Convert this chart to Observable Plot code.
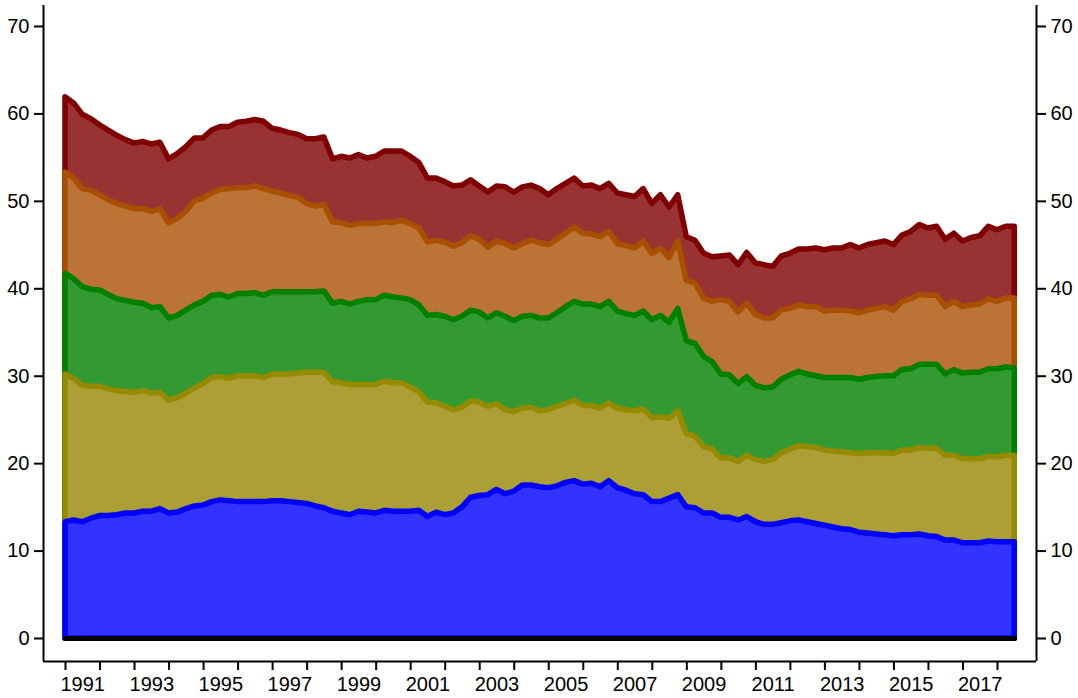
<!DOCTYPE html>
<html>
<head>
<meta charset="utf-8">
<script src="https://cdn.jsdelivr.net/npm/d3@7"></script>
<script src="https://cdn.jsdelivr.net/npm/@observablehq/plot@0.6"></script>
<style>
  html, body { margin: 0; padding: 0; background: #fff; }
  #chart svg { display: block; }
</style>
</head>
<body>
<div id="chart"></div>
<script>
// Quarterly observations, 1991Q1 .. 2018Q3 (111 quarters)
const startYear = 1991;

// Stacked levels (cumulative top of each band)
const levelRed = [61.9,61.2,59.9,59.4,58.7,58.1,57.5,57.0,56.6,56.8,56.5,56.7,54.8,55.4,56.2,57.2,57.2,58.1,58.5,58.5,
  59.0,59.1,59.3,59.1,58.3,58.1,57.8,57.6,57.1,57.1,57.3,54.8,55.1,54.9,55.3,54.9,55.1,55.7,55.7,55.7,
  55.1,54.4,52.6,52.6,52.2,51.7,51.8,52.4,51.7,51.0,51.7,51.6,51.0,51.6,51.8,51.4,50.7,51.4,52.0,52.6,
  51.7,51.8,51.4,52.0,50.9,50.7,50.5,51.4,49.7,50.7,49.3,50.7,45.9,45.5,44.0,43.6,43.7,43.8,42.7,44.1,
  42.9,42.7,42.5,43.7,44.0,44.5,44.5,44.6,44.4,44.6,44.6,45.0,44.6,45.0,45.2,45.4,45.0,46.1,46.5,47.3,
  46.9,47.1,45.6,46.3,45.4,45.8,46.0,47.1,46.7,47.1,47.1];
const levelOrange = [53.3,52.6,51.4,51.2,50.7,50.1,49.7,49.4,49.1,49.1,48.8,49.1,47.5,48.0,48.8,50.0,50.3,50.9,51.3,51.4,
  51.5,51.5,51.7,51.4,51.1,50.9,50.6,50.4,49.7,49.4,49.6,47.6,47.5,47.2,47.4,47.4,47.4,47.6,47.5,47.8,
  47.4,46.9,45.3,45.5,45.3,44.8,45.2,46.0,45.6,44.7,45.4,45.1,44.6,45.1,45.5,45.2,45.0,45.6,46.3,47.0,
  46.3,46.2,45.9,46.5,45.1,44.9,44.6,45.4,44.0,44.6,43.5,45.4,40.9,40.6,38.9,38.5,38.7,38.5,37.3,38.3,
  37.0,36.6,36.6,37.5,37.7,38.1,37.9,37.9,37.4,37.5,37.5,37.4,37.2,37.5,37.7,37.9,37.5,38.5,38.8,39.3,
  39.2,39.2,37.9,38.5,37.9,38.1,38.2,38.8,38.5,38.9,38.9];
const levelGreen = [41.7,41.1,40.2,39.9,39.8,39.3,38.8,38.6,38.4,38.3,37.8,37.9,36.6,36.9,37.5,38.1,38.5,39.2,39.3,39.0,
  39.4,39.4,39.5,39.2,39.6,39.6,39.6,39.6,39.6,39.6,39.7,38.3,38.5,38.2,38.5,38.7,38.7,39.2,39.0,38.9,
  38.7,38.1,36.9,37.0,36.8,36.4,36.8,37.5,37.3,36.6,37.2,36.8,36.3,36.8,36.9,36.6,36.6,37.2,37.9,38.5,
  38.2,38.2,37.9,38.5,37.4,37.1,36.9,37.4,36.4,36.9,36.1,37.7,34.0,33.7,32.2,31.6,30.2,30.1,29.1,29.9,
  28.9,28.6,28.7,29.6,30.1,30.5,30.2,30.0,29.8,29.8,29.8,29.8,29.6,29.8,29.9,30.0,30.0,30.7,30.8,31.3,
  31.3,31.3,30.2,30.7,30.3,30.4,30.4,30.8,30.8,31.0,30.9];
const levelOlive = [30.2,29.7,28.9,28.8,28.8,28.5,28.3,28.2,28.1,28.3,28.0,28.1,27.2,27.5,28.0,28.6,29.1,29.8,29.9,29.7,
  30.0,30.0,30.0,29.8,30.2,30.2,30.2,30.3,30.4,30.4,30.4,29.3,29.2,29.0,29.0,29.0,29.0,29.4,29.2,29.2,
  28.7,28.2,27.0,26.9,26.5,26.1,26.4,27.1,27.0,26.5,26.8,26.1,25.9,26.3,26.4,26.0,26.1,26.5,26.8,27.2,
  26.6,26.6,26.3,26.9,26.3,26.1,26.0,26.2,25.2,25.3,25.1,26.0,23.4,23.1,21.9,21.6,20.6,20.6,20.2,20.9,
  20.4,20.2,20.4,21.2,21.6,22.0,21.9,21.8,21.5,21.4,21.3,21.2,21.1,21.2,21.2,21.2,21.1,21.5,21.5,21.8,
  21.7,21.7,20.9,20.9,20.5,20.5,20.5,20.8,20.7,20.9,20.9];
const levelBlue = [13.3,13.5,13.3,13.7,14.0,14.0,14.1,14.3,14.3,14.5,14.5,14.8,14.3,14.4,14.8,15.1,15.2,15.6,15.8,15.7,
  15.6,15.6,15.6,15.6,15.7,15.7,15.6,15.5,15.4,15.1,14.9,14.5,14.3,14.1,14.5,14.4,14.3,14.6,14.5,14.5,
  14.5,14.6,13.9,14.4,14.1,14.3,15.0,16.1,16.3,16.4,17.0,16.5,16.8,17.5,17.5,17.3,17.2,17.4,17.8,18.0,
  17.6,17.7,17.3,18.0,17.2,16.9,16.5,16.4,15.6,15.6,16.0,16.4,15.0,14.9,14.3,14.3,13.8,13.8,13.5,13.9,
  13.3,13.0,13.0,13.2,13.4,13.5,13.3,13.1,12.9,12.7,12.5,12.4,12.1,12.0,11.9,11.8,11.7,11.8,11.8,11.9,
  11.7,11.6,11.2,11.2,10.9,10.9,10.9,11.1,11.0,11.0,11.0];

// Axis ticks
const yTicks = [0, 10, 20, 30, 40, 50, 60, 70];
const yearTicks = d3.range(1991, 2019);            // tick at the start of each year
const yearLabels = d3.range(1991, 2018, 2);        // labelled (odd) years

// Series styling (drawn back to front)
const series = [
  {name: "red",    values: levelRed,    fill: "#993333", stroke: "#800000"},
  {name: "orange", values: levelOrange, fill: "#bb7336", stroke: "#a85000"},
  {name: "green",  values: levelGreen,  fill: "#339933", stroke: "#008000"},
  {name: "olive",  values: levelOlive,  fill: "#ab9f35", stroke: "#958a00"},
  {name: "blue",   values: levelBlue,   fill: "#3333ff", stroke: "#0000ff"}
];

const toRows = vals => vals.map((v, i) => ({t: startYear + i / 4, v, base: 0}));

const xDomain = [1990.363, 2019.13];
const yDomain = [-2.63, 72.4];
const font = "'Liberation Sans', Arial, Helvetica, sans-serif";

const marks = [];
for (const s of series) {
  marks.push(Plot.areaY(toRows(s.values), {
    x: "t", y1: "base", y2: "v",
    fill: s.fill, stroke: s.stroke, strokeWidth: 5.5,
    strokeLinejoin: "round", curve: "linear"
  }));
}
marks.push(Plot.lineY(toRows(levelBlue), {x: "t", y: "base", stroke: "#000", strokeWidth: 5, strokeLinecap: "round"}));

// axis lines
marks.push(Plot.ruleX([xDomain[0], xDomain[1]], {stroke: "#000", strokeWidth: 2}));
marks.push(Plot.ruleY([yDomain[0]], {stroke: "#000", strokeWidth: 2}));

// y axes
marks.push(Plot.axisY({anchor: "left", ticks: yTicks, tickSize: 9, tickPadding: 5, fontSize: 20, strokeWidth: 2, label: null, tickFormat: d => String(d)}));
marks.push(Plot.axisY({anchor: "right", ticks: yTicks, tickSize: 9, tickPadding: 5, fontSize: 20, strokeWidth: 2, label: null, tickFormat: d => String(d)}));

// x axis ticks (year boundaries) and labels (centred within the year)
marks.push(Plot.axisX({anchor: "bottom", ticks: yearTicks, tickSize: 9, strokeWidth: 2, tickFormat: () => "", label: null}));
marks.push(Plot.axisX({anchor: "bottom", ticks: yearLabels.map(y => y + 0.5), tickSize: 0, tickPadding: 15, fontSize: 20, label: null, tickFormat: d => String(Math.floor(d))}));

const chart = Plot.plot({
  width: 1078,
  height: 698,
  marginLeft: 43,
  marginRight: 42,
  marginTop: 5,
  marginBottom: 37,
  x: {domain: xDomain},
  y: {domain: yDomain},
  style: {fontFamily: font, color: "#000", background: "#fff", overflow: "visible"},
  marks
});
document.getElementById("chart").appendChild(chart);
</script>
</body>
</html>
